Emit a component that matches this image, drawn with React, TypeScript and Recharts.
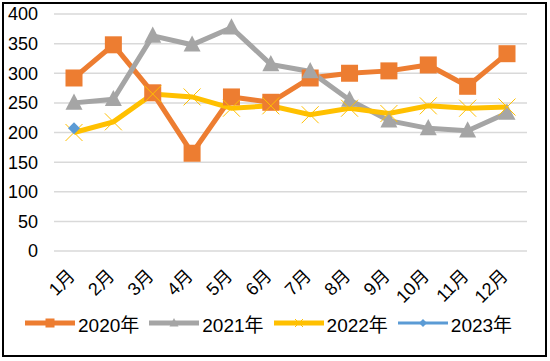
import { LineChart, Line, XAxis, YAxis, CartesianGrid, Legend } from 'recharts';

const months = ['1月', '2月', '3月', '4月', '5月', '6月', '7月', '8月', '9月', '10月', '11月', '12月'];
const y2020 = [292, 348, 267, 165, 260, 251, 292, 300, 304, 314, 278, 333];
const y2021 = [250, 256, 363, 348, 377, 315, 303, 255, 220, 207, 203, 233];
const y2022 = [200, 218, 265, 260, 241, 245, 230, 241, 232, 245, 241, 243];
const y2023: (number | null)[] = [207, null, null, null, null, null, null, null, null, null, null, null];
const yTicks = [0, 50, 100, 150, 200, 250, 300, 350, 400];

const data = months.map((m, i) => ({
  month: m,
  y2020: y2020[i],
  y2021: y2021[i],
  y2022: y2022[i],
  y2023: y2023[i],
}));

const FONT = '"Liberation Sans", "Noto Sans CJK SC", sans-serif';
const ORANGE = '#ED7D31';
const GRAY = '#A5A5A5';
const YELLOW = '#FFC000';
const BLUE = '#5B9BD5';

const Square = ({ cx, cy, size = 17 }: any) =>
  cx == null || cy == null ? null : (
    <rect x={cx - size / 2} y={cy - size / 2} width={size} height={size} fill={ORANGE} />
  );

const Triangle = ({ cx, cy, size = 17 }: any) =>
  cx == null || cy == null ? null : (
    <polygon
      points={`${cx},${cy - size * 0.55} ${cx + size / 2},${cy + size * 0.4} ${cx - size / 2},${cy + size * 0.4}`}
      fill={GRAY}
    />
  );

const Cross = ({ cx, cy, size = 17 }: any) =>
  cx == null || cy == null ? null : (
    <g stroke={YELLOW} strokeWidth={1}>
      <line x1={cx - size / 2} y1={cy - size / 2} x2={cx + size / 2} y2={cy + size / 2} />
      <line x1={cx - size / 2} y1={cy + size / 2} x2={cx + size / 2} y2={cy - size / 2} />
    </g>
  );

const Diamond = ({ cx, cy, size = 12 }: any) =>
  cx == null || cy == null ? null : (
    <polygon
      points={`${cx},${cy - size / 2} ${cx + size / 2},${cy} ${cx},${cy + size / 2} ${cx - size / 2},${cy}`}
      fill={BLUE}
    />
  );

const MonthTick = ({ x, payload }: any) => (
  <text
    x={x + 2}
    y={277}
    transform={`rotate(-45 ${x + 2} 277)`}
    textAnchor="end"
    fontSize={18}
    fontFamily={FONT}
    fill="#000"
  >
    {payload.value}
  </text>
);

const legendItems = [
  { name: '2020年', color: ORANGE, width: 5, Mark: Square, size: 9 },
  { name: '2021年', color: GRAY, width: 5, Mark: Triangle, size: 9 },
  { name: '2022年', color: YELLOW, width: 5, Mark: Cross, size: 8 },
  { name: '2023年', color: BLUE, width: 3, Mark: Diamond, size: 8 },
];

const LegendContent = () => (
  <div style={{ display: 'flex', alignItems: 'center', height: 24, paddingLeft: 25 }}>
    {legendItems.map((it) => (
      <div key={it.name} style={{ display: 'flex', alignItems: 'center', marginRight: 10 }}>
        <svg width={50} height={20}>
          <line x1={0} y1={10} x2={50} y2={10} stroke={it.color} strokeWidth={it.width} strokeLinecap="round" />
          <it.Mark cx={25} cy={10} size={it.size} />
        </svg>
        <span style={{ fontSize: 19, fontFamily: FONT, color: '#000', marginLeft: 3 }}>{it.name}</span>
      </div>
    ))}
  </div>
);

export default function App() {
  return (
    <div
      style={{
        position: 'absolute',
        left: 0,
        top: 0,
        width: 550,
        height: 361,
        background: '#fff',
      }}
    >
      <div
        style={{
          position: 'absolute',
          left: 2,
          top: 2,
          width: 541,
          height: 351,
          border: '2px solid #000',
        }}
      />
      <LineChart width={550} height={361} data={data} margin={{ top: 14, right: 23, left: 0, bottom: 0 }}>
        <CartesianGrid horizontal vertical={false} stroke="#D9D9D9" strokeWidth={1.5} />
        <XAxis
          dataKey="month"
          interval={0}
          axisLine={false}
          tickLine={false}
          tickSize={0}
          height={86}
          padding={{ left: 20, right: 20 }}
          tick={<MonthTick />}
        />
        <YAxis
          domain={[0, 400]}
          ticks={yTicks}
          width={54}
          axisLine={false}
          tickLine={false}
          tickSize={0}
          tickMargin={16}
          tick={{ fontSize: 18, fontFamily: FONT, fill: '#000' }}
        />
        <Legend verticalAlign="bottom" content={<LegendContent />} wrapperStyle={{ bottom: 26, left: 0, width: 550 }} />
        <Line dataKey="y2020" stroke={ORANGE} strokeWidth={5} dot={<Square />} isAnimationActive={false} />
        <Line dataKey="y2021" stroke={GRAY} strokeWidth={5} dot={<Triangle />} isAnimationActive={false} />
        <Line dataKey="y2022" stroke={YELLOW} strokeWidth={5} dot={<Cross />} isAnimationActive={false} />
        <Line dataKey="y2023" stroke={BLUE} strokeWidth={3} dot={<Diamond />} isAnimationActive={false} />
      </LineChart>
    </div>
  );
}
